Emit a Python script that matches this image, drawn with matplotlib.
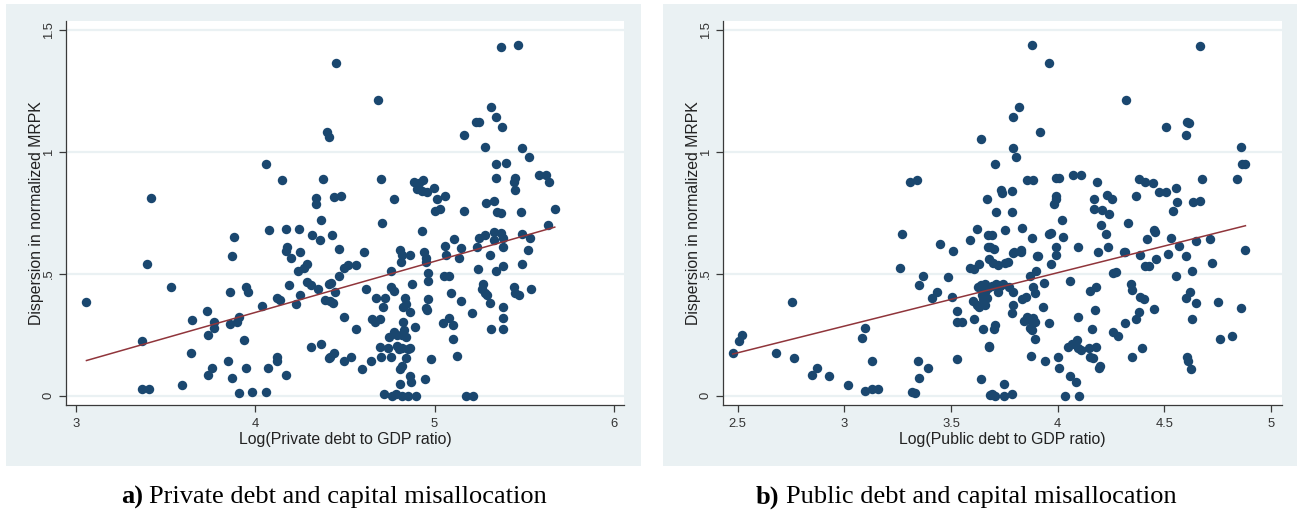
import matplotlib
matplotlib.use("Agg")
import matplotlib.pyplot as plt
from matplotlib.patches import Rectangle
import numpy as np

# panel a: log private debt / GDP vs dispersion in normalized MRPK
priv_x = [3.42, 4.40, 4.41, 4.06, 4.15, 4.38, 4.34, 4.34, 4.37, 3.88, 4.08, 4.17, 4.245, 4.315,
          4.36, 4.43, 4.18, 4.17, 4.25, 4.20, 3.87,
          3.40, 3.06, 3.53, 3.86, 3.95, 3.96, 4.04, 4.12, 4.14, 4.19, 4.25, 4.23, 3.73, 3.65,
          3.77, 3.77, 3.74, 3.86, 3.90, 3.91, 3.37, 3.94, 3.64, 3.85, 3.76, 3.95, 3.74, 3.87,
          4.07, 4.12, 4.12, 4.17, 4.31, 4.37, 4.41, 3.59, 3.37, 3.41, 3.91, 3.98, 4.06, 4.24,
          4.27, 4.29, 4.29, 4.31, 4.35, 4.39, 4.41,
          4.45, 4.685, 5.37, 5.465, 5.315, 5.34, 5.23, 5.25, 5.375, 5.165, 5.28, 5.485, 5.525,
          5.34, 5.40, 4.70, 4.885, 5.34, 5.45, 5.445, 5.45, 5.58, 5.62, 5.64, 4.915, 4.935,
          4.905, 4.96, 4.995, 4.93, 4.44, 4.48, 4.775, 5.015, 5.06, 5.285, 5.33, 5.35, 5.37,
          5.48, 5.67, 5.00, 5.03, 5.165, 4.71, 4.93, 5.635, 4.47, 4.605, 4.81, 4.82, 4.865,
          4.94, 5.06, 5.11, 5.15, 5.25, 5.28, 5.33, 5.33, 5.37, 5.38, 5.38, 5.485, 5.53, 5.52,
          5.235, 5.31, 5.065, 5.135, 4.955,
          4.815, 4.95, 5.24, 5.38, 5.34, 5.49, 4.495, 4.52, 4.56, 4.465, 4.425, 4.445, 4.42,
          4.435, 4.76, 4.875, 4.965, 4.965, 5.05, 5.08, 4.62, 4.675, 4.725, 4.715, 4.755, 4.775,
          4.835, 4.84, 4.825, 4.865, 4.965, 4.95, 4.96, 5.09, 5.15, 5.27, 5.265, 5.28, 5.29,
          5.31, 5.38, 5.445, 5.45, 5.47, 5.535, 4.495, 4.56, 4.65, 4.67, 4.695, 4.825, 4.775,
          4.745, 4.79, 4.83, 4.84, 4.82, 4.89, 4.695, 4.74, 4.79, 4.82, 4.865, 4.80, 4.85, 4.70,
          4.76, 4.84, 4.98, 5.045, 5.08, 5.105, 5.105, 5.125, 5.21, 5.38, 5.315, 5.38, 4.42,
          4.44, 4.495, 4.535, 4.595, 4.645, 4.805, 4.82, 4.865, 4.87, 4.805, 4.945, 4.72, 4.765,
          4.785, 4.82, 4.85, 4.895, 5.175, 5.215]
priv_y = [0.81, 1.08, 1.06, 0.95, 0.885, 0.89, 0.81, 0.785, 0.72, 0.65, 0.68, 0.685, 0.685, 0.66,
          0.64, 0.66, 0.61, 0.595, 0.59, 0.565, 0.575,
          0.54, 0.385, 0.445, 0.425, 0.447, 0.427, 0.37, 0.40, 0.393, 0.454, 0.413, 0.375, 0.348,
          0.312, 0.304, 0.279, 0.25, 0.294, 0.304, 0.324, 0.226, 0.229, 0.174, 0.144, 0.114,
          0.112, 0.083, 0.072, 0.112, 0.157, 0.144, 0.085, 0.198, 0.212, 0.156, 0.044, 0.026,
          0.026, 0.010, 0.016, 0.014, 0.513, 0.523, 0.541, 0.468, 0.455, 0.437, 0.393, 0.46,
          1.365, 1.213, 1.432, 1.439, 1.186, 1.142, 1.122, 1.124, 1.104, 1.07, 1.019, 1.014,
          0.977, 0.952, 0.953, 0.889, 0.875, 0.892, 0.892, 0.875, 0.845, 0.906, 0.906, 0.878,
          0.874, 0.886, 0.847, 0.837, 0.851, 0.84, 0.817, 0.819, 0.807, 0.807, 0.821, 0.792,
          0.799, 0.752, 0.748, 0.755, 0.765, 0.759, 0.766, 0.759, 0.709, 0.676, 0.702, 0.602,
          0.59, 0.598, 0.578, 0.578, 0.591, 0.616, 0.643, 0.607, 0.646, 0.659, 0.639, 0.673,
          0.666, 0.612, 0.645, 0.662, 0.648, 0.598, 0.611, 0.577, 0.577, 0.564, 0.563,
          0.55, 0.55, 0.518, 0.532, 0.512, 0.539, 0.523, 0.536, 0.536, 0.491, 0.464, 0.427,
          0.39, 0.382, 0.512, 0.457, 0.502, 0.472, 0.491, 0.491, 0.436, 0.402, 0.402, 0.365,
          0.447, 0.431, 0.399, 0.378, 0.363, 0.345, 0.395, 0.358, 0.35, 0.42, 0.39, 0.457,
          0.437, 0.423, 0.413, 0.379, 0.362, 0.445, 0.423, 0.413, 0.436, 0.324, 0.272, 0.313,
          0.304, 0.315, 0.304, 0.263, 0.24, 0.25, 0.27, 0.24, 0.25, 0.28, 0.201, 0.197, 0.204,
          0.197, 0.197, 0.19, 0.19, 0.16, 0.157, 0.153, 0.149, 0.30, 0.317, 0.29, 0.231, 0.163,
          0.338, 0.317, 0.272, 0.272, 0.157, 0.174, 0.142, 0.157, 0.108, 0.142, 0.108, 0.122,
          0.081, 0.058, 0.047, 0.07, 0.007, 0.0, 0.007, 0.0, 0.0, 0.0, 0.0, 0.0]

# panel b: log public debt / GDP
pub_x = [3.64, 3.31, 3.34, 3.67, 3.27, 3.45, 3.51, 3.59, 3.62, 3.675, 3.675,
         3.88, 3.96, 4.665, 4.32, 3.82, 3.79, 3.915, 4.51, 4.605, 4.615, 4.60, 3.79, 3.805,
         4.86, 4.865, 4.88, 3.705, 3.855, 3.885, 3.99, 4.005, 4.07, 4.11, 4.185, 4.38, 4.41,
         4.445, 4.475, 4.51, 4.555, 4.675, 4.84, 3.735, 3.74, 3.785, 3.99, 3.99, 3.985, 4.17,
         4.23, 4.255, 4.365, 4.56, 4.54, 4.635, 4.665, 3.71, 3.785, 4.17, 4.21, 4.24, 4.02,
         4.205, 4.33, 3.755, 3.835, 3.69, 3.88, 3.96, 3.97, 4.025, 4.225, 4.45, 4.455, 4.42,
         4.53, 4.57, 4.65, 4.715, 4.88, 3.685, 3.70, 3.795, 3.83, 3.99, 3.99, 4.095, 4.19,
         4.235, 4.315, 4.385, 4.515, 4.60, 3.91, 4.46, 4.725,
         2.477, 2.508, 2.522, 2.68, 2.756, 2.766, 2.87, 2.85, 2.93, 3.017, 3.097, 3.131, 3.159,
         3.081, 3.098, 3.128, 3.259, 3.35, 3.37, 3.344, 3.352, 3.394, 3.319, 3.331, 3.409,
         3.433, 3.488, 3.506, 3.527, 3.53, 3.55, 3.527, 3.589, 3.607, 3.631, 3.605, 3.623,
         3.632, 3.608, 3.628, 3.64, 3.66, 3.65, 3.675, 3.652, 3.645, 3.648, 3.641, 3.68, 3.683,
         3.68,
         3.69, 3.71, 3.66, 3.67, 3.66, 3.73, 3.745, 3.77, 3.72, 3.79, 3.695, 3.72, 3.755, 3.765,
         3.79, 3.83, 3.905, 3.97, 3.87, 3.90, 3.935, 3.885, 3.895, 3.835, 3.85, 3.79, 3.785,
         3.93, 3.84, 3.855, 3.87, 3.885, 3.895, 3.87, 3.88, 3.96, 3.895, 3.70, 3.705, 3.68,
         3.875, 3.94, 4.00, 4.005, 3.75, 3.69, 3.705, 3.75, 3.785, 4.035, 4.10, 4.06, 4.085,
         4.06, 4.095, 4.05, 4.065, 4.09, 4.095, 4.11, 4.15, 4.165, 4.145, 4.18, 4.16, 4.175,
         4.15, 4.18, 4.195, 4.20, 4.26, 4.285, 4.315, 4.26, 4.275, 4.345, 4.35, 4.385, 4.405,
         4.38, 4.365, 4.45, 4.395, 4.35, 4.31, 4.41, 4.43, 4.555, 4.63, 4.60, 4.62, 4.65,
         4.63, 4.75, 4.86, 4.76, 4.815, 4.605, 4.61, 4.625]
pub_y = [1.053, 0.876, 0.885, 0.806, 0.662, 0.624, 0.595, 0.639, 0.685, 0.659, 0.61,
         1.439, 1.365, 1.434, 1.213, 1.186, 1.142, 1.083, 1.104, 1.124, 1.12, 1.07, 1.015, 0.978,
         1.018, 0.952, 0.952, 0.952, 0.885, 0.885, 0.892, 0.892, 0.906, 0.906, 0.878, 0.889,
         0.875, 0.871, 0.837, 0.837, 0.851, 0.889, 0.889, 0.844, 0.83, 0.841, 0.819, 0.807,
         0.787, 0.807, 0.822, 0.806, 0.821, 0.793, 0.758, 0.795, 0.799, 0.752, 0.755, 0.766,
         0.762, 0.746, 0.721, 0.70, 0.71, 0.68, 0.687, 0.659, 0.648, 0.662, 0.666, 0.65, 0.662,
         0.68, 0.67, 0.643, 0.648, 0.616, 0.636, 0.643, 0.598, 0.611, 0.60, 0.59, 0.598, 0.609,
         0.577, 0.611, 0.591, 0.611, 0.591, 0.577, 0.58, 0.574, 0.573, 0.56, 0.543,
         0.174, 0.224, 0.249, 0.174, 0.386, 0.153, 0.112, 0.085, 0.082, 0.042, 0.019, 0.026,
         0.026, 0.238, 0.279, 0.142, 0.523, 0.454, 0.491, 0.142, 0.072, 0.114, 0.016, 0.010,
         0.399, 0.427, 0.488, 0.406, 0.347, 0.301, 0.301, 0.149, 0.523, 0.52, 0.539, 0.389,
         0.372, 0.365, 0.313, 0.447, 0.454, 0.457, 0.43, 0.44, 0.397, 0.415, 0.274, 0.068,
         0.204, 0.003, 0.561,
         0.45, 0.46, 0.427, 0.40, 0.372, 0.449, 0.457, 0.447, 0.427, 0.427, 0.543, 0.536, 0.543,
         0.55, 0.584, 0.59, 0.573, 0.539, 0.491, 0.513, 0.461, 0.447, 0.423, 0.395, 0.406,
         0.372, 0.341, 0.362, 0.306, 0.324, 0.31, 0.317, 0.304, 0.276, 0.269, 0.30, 0.231,
         0.274, 0.29, 0.201, 0.163, 0.144, 0.16, 0.112, 0.048, 0.007, 0.0, 0.0, 0.007, 0.0,
         0.0, 0.081, 0.057, 0.472, 0.324, 0.201, 0.214, 0.228, 0.194, 0.187, 0.16, 0.153,
         0.197, 0.201, 0.274, 0.352, 0.431, 0.447, 0.112, 0.122, 0.263, 0.245, 0.297, 0.505,
         0.509, 0.458, 0.434, 0.406, 0.395, 0.345, 0.315, 0.356, 0.194, 0.16, 0.591, 0.534,
         0.534, 0.491, 0.512, 0.40, 0.427, 0.382, 0.313, 0.386, 0.358, 0.231, 0.245, 0.157,
         0.142, 0.108]

# linear fits (intercept, slope) as drawn in the source
priv_fit = (-0.497, 0.2096)
pub_fit = (-0.3715, 0.219)

y_ticks = [0, 0.5, 1, 1.5]
y_ticklabels = ["0", ".5", "1", "1.5"]
priv_xticks = [3, 4, 5, 6]
pub_xticks = [2.5, 3, 3.5, 4, 4.5, 5]

W, H = 1298, 513
BG = "#eaf1f3"
DOT = "#1a476f"
FIT = "#90353b"
SANS = "Liberation Sans"

fig = plt.figure(figsize=(W / 100, H / 100), dpi=100)


def box(x0, y0, x1, y1):
    return [x0 / W, 1 - y1 / H, (x1 - x0) / W, (y1 - y0) / H]


def panel(outer, inner, x, y, fit, xticks, xlim, xlabel):
    b = box(*outer)
    fig.add_artist(Rectangle((b[0], b[1]), b[2], b[3], transform=fig.transFigure,
                             facecolor=BG, edgecolor="none", zorder=0))
    ax = fig.add_axes(box(*inner))
    ax.set_facecolor("white")
    x = np.array(x)
    ax.plot(x, y, "o", ms=6.8, color=DOT, mec="none", zorder=3)
    xs = np.array([x.min(), x.max()])
    ax.plot(xs, fit[0] + fit[1] * xs, color=FIT, lw=1.1, zorder=4)
    ax.set_xlim(*xlim)
    ax.set_ylim(-0.038, 1.538)
    ax.set_yticks(y_ticks)
    ax.set_yticklabels(y_ticklabels, rotation=90, va="center", fontsize=9.4, family=SANS,
                       color="#333333")
    ax.set_xticks(xticks)
    ax.set_xticklabels([f"{t:g}" for t in xticks], fontsize=9.4, family=SANS, color="#333333")
    ax.tick_params(axis="x", direction="out", length=5, width=0.9, color="#3a3a3a", pad=4.5)
    ax.tick_params(axis="y", direction="out", length=5, width=0.9, color="#3a3a3a", pad=3)
    for s in ("top", "right"):
        ax.spines[s].set_visible(False)
    for s in ("left", "bottom"):
        ax.spines[s].set_color("#3a3a3a")
        ax.spines[s].set_linewidth(0.9)
    ax.yaxis.grid(True, color=BG, lw=1.6)
    ax.set_axisbelow(True)
    ax.set_ylabel("Dispersion in normalized MRPK", fontsize=11.4, family=SANS, labelpad=-1,
                  color="#222222")
    ax.set_xlabel(xlabel, fontsize=11.4, family=SANS, labelpad=1, color="#222222")
    return ax


panel((6, 4, 641, 466), (66, 20.7, 624, 405), priv_x, priv_y, priv_fit,
      priv_xticks, (2.946, 6.056), "Log(Private debt to GDP ratio)")
panel((663, 4, 1297, 466), (722.7, 20.7, 1281.7, 405), pub_x, pub_y, pub_fit,
      pub_xticks, (2.43, 5.05), "Log(Public debt to GDP ratio)")

# captions: bold letter followed by plain text
fig.canvas.draw()
for x0, tag, rest in [(121, "a)", "Private debt and capital misallocation"),
                      (756, "b)", "Public debt and capital misallocation")]:
    t = fig.text(x0 / W, 1 - 497 / H, tag, fontsize=19, weight="bold",
                 family="Liberation Serif", va="center")
    bb = t.get_window_extent(fig.canvas.get_renderer())
    fig.text((bb.x1 + 6) / W, 1 - 497 / H, rest, fontsize=19,
             family="Liberation Serif", va="center")

fig.savefig("out.png", dpi=100, facecolor="white")
